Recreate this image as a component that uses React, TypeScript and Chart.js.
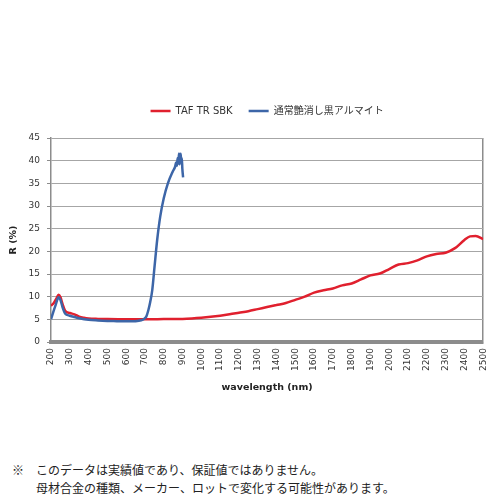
import React, { useEffect, useRef } from 'react';
import { Chart, registerables } from 'chart.js';

Chart.register(...registerables);

// Series labels
const SERIES_RED = 'TAF TR SBK';
const SERIES_BLUE = '通常艶消し黒アルマイト';

// TAF TR SBK: wavelength (nm) / reflectance (%)
const RED_WL = [200, 215, 230, 240, 250, 262, 275, 300, 325, 350, 375, 400, 450, 500, 600, 700, 800, 900, 950, 1000, 1050, 1100, 1150, 1200, 1250, 1300, 1350, 1400, 1450, 1500, 1550, 1600, 1650, 1700, 1750, 1800, 1850, 1900, 1950, 2000, 2050, 2100, 2150, 2200, 2250, 2300, 2350, 2400, 2430, 2460, 2500];
const RED_R = [8.0, 8.6, 9.7, 10.4, 9.9, 8.3, 6.9, 6.4, 6.1, 5.6, 5.35, 5.2, 5.1, 5.05, 5.0, 5.0, 5.05, 5.1, 5.2, 5.35, 5.55, 5.8, 6.1, 6.45, 6.8, 7.25, 7.7, 8.15, 8.6, 9.3, 10.0, 10.9, 11.4, 11.8, 12.5, 12.9, 13.8, 14.7, 15.1, 16.1, 17.1, 17.4, 18.0, 18.9, 19.4, 19.7, 20.7, 22.5, 23.3, 23.4, 22.7];

// 通常艶消し黒アルマイト: wavelength (nm) / reflectance (%)
const BLUE_WL = [200, 212, 225, 240, 250, 262, 275, 300, 325, 350, 400, 450, 500, 550, 600, 650, 680, 695, 707, 718, 728, 739, 751, 765, 781, 800, 822, 848, 860, 866, 870, 874, 878, 881, 884, 887, 890, 893, 896, 899, 903];
const BLUE_R = [5.0, 6.6, 8.2, 9.85, 9.3, 7.6, 6.3, 5.8, 5.5, 5.25, 4.9, 4.75, 4.65, 4.6, 4.55, 4.6, 4.8, 5.1, 5.6, 7.0, 8.8, 11.5, 16.6, 22.5, 27.6, 31.7, 35.0, 37.6, 38.6, 39.6, 38.9, 40.6, 39.4, 41.6, 39.2, 40.4, 41.5, 39.8, 40.6, 38.2, 36.3];

// Tick labels
const X_TICKS = [200, 300, 400, 500, 600, 700, 800, 900, 1000, 1100, 1200, 1300, 1400, 1500, 1600, 1700, 1800, 1900, 2000, 2100, 2200, 2300, 2400, 2500];
const Y_TICKS = [0, 5, 10, 15, 20, 25, 30, 35, 40, 45];

const FONT = "'DejaVu Sans', 'Noto Sans CJK JP', sans-serif";
const RED = '#e0202e';
const BLUE = '#3d66a8';
const GRID = '#a6a6a6';
const AXIS = '#8c8c8c';
const LEGEND_HEIGHT = 48;

// stretch the legend box so the plot starts lower
const legendSpacer = {
  id: 'legendSpacer',
  beforeInit(chart: any) {
    const legend = chart.legend;
    if (!legend) return;
    const fit = legend.fit.bind(legend);
    legend.fit = function () {
      fit();
      this.height = LEGEND_HEIGHT;
    };
  },
};

const App: React.FC = () => {
  const canvasRef = useRef<HTMLCanvasElement>(null);

  useEffect(() => {
    if (!canvasRef.current) return;
    const chart = new Chart(canvasRef.current, {
      type: 'line',
      data: {
        datasets: [
          {
            label: SERIES_RED,
            data: RED_WL.map((x, i) => ({ x, y: RED_R[i] })),
            borderColor: RED,
            backgroundColor: RED,
            borderWidth: 2.5,
            pointRadius: 0,
            cubicInterpolationMode: 'monotone',
            order: 1,
          },
          {
            label: SERIES_BLUE,
            data: BLUE_WL.map((x, i) => ({ x, y: BLUE_R[i] })),
            borderColor: BLUE,
            backgroundColor: BLUE,
            borderWidth: 2.5,
            pointRadius: 0,
            cubicInterpolationMode: 'monotone',
            order: 0,
          },
        ],
      },
      options: {
        animation: false,
        responsive: false,
        layout: { padding: { top: 90, right: 15, left: 0, bottom: 0 } },
        plugins: {
          tooltip: { enabled: false },
          legend: {
            position: 'top',
            fullSize: false,
            labels: {
              usePointStyle: true,
              pointStyle: 'line',
              pointStyleWidth: 20,
              padding: 16,
              color: '#333',
              font: { family: FONT, size: 10 },
              sort: (a: any, b: any) => a.datasetIndex - b.datasetIndex,
            },
          },
        },
        scales: {
          x: {
            type: 'linear',
            min: 200,
            max: 2500,
            afterFit: (s: any) => {
              s.height = 58;
            },
            afterBuildTicks: (s: any) => {
              s.ticks = X_TICKS.map((value) => ({ value }));
            },
            ticks: {
              autoSkip: false,
              minRotation: 90,
              maxRotation: 90,
              padding: 6,
              color: '#333',
              font: { family: FONT, size: 9 },
              callback: (v: any) => String(v),
            },
            grid: {
              drawTicks: false,
              color: (ctx: any) => (ctx.tick && ctx.tick.value === 2500 ? AXIS : 'transparent'),
              lineWidth: 1.5,
            },
            border: { display: true, color: AXIS, width: 4 },
            title: {
              display: true,
              text: 'wavelength (nm)',
              color: '#222',
              font: { family: FONT, size: 9.5, weight: 'bold' },
              padding: { top: 4, bottom: 7 },
            },
          },
          y: {
            min: 0,
            max: 45,
            afterFit: (s: any) => {
              s.width = 51;
            },
            afterBuildTicks: (s: any) => {
              s.ticks = Y_TICKS.map((value) => ({ value }));
            },
            ticks: {
              padding: 7,
              color: '#333',
              font: { family: FONT, size: 9 },
            },
            grid: {
              color: GRID,
              lineWidth: 1,
              tickLength: 4,
              tickColor: AXIS,
            },
            border: { display: true, color: AXIS, width: 1.5 },
            title: {
              display: true,
              text: 'R (%)',
              color: '#222',
              font: { family: FONT, size: 9.5, weight: 'bold' },
              padding: { top: 8, bottom: 4 },
            },
          },
        },
      },
      plugins: [legendSpacer],
    });

    return () => {
      chart.destroy();
    };
  }, []);

  return (
    <div style={{ position: 'fixed', left: 0, top: 0, width: 500, height: 500, background: '#fff' }}>
      <canvas ref={canvasRef} width={500} height={400} style={{ position: 'absolute', left: 0, top: 0, width: 500, height: 400 }} />
      <div
        style={{
          position: 'absolute',
          left: 12,
          top: 461,
          fontFamily: "'Noto Sans CJK JP', sans-serif",
          fontSize: 12,
          lineHeight: '18px',
          color: '#222',
          whiteSpace: 'nowrap',
        }}
      >
        <div>※　このデータは実績値であり、保証値ではありません。</div>
        <div style={{ paddingLeft: 24 }}>母材合金の種類、メーカー、ロットで変化する可能性があります。</div>
      </div>
    </div>
  );
};

export default App;
